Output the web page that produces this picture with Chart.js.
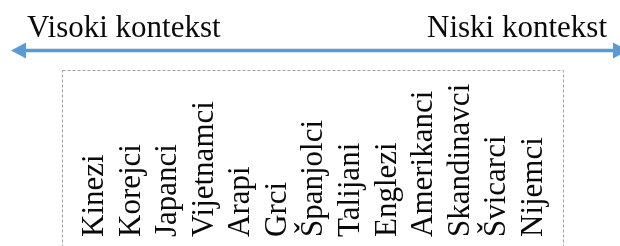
<!DOCTYPE html>
<html>
<head>
<meta charset="utf-8">
<script src="https://cdn.jsdelivr.net/npm/chart.js@4"></script>
<style>
  html, body { margin: 0; padding: 0; background: #fff; }
  #wrap { width: 620px; height: 246px; }
</style>
</head>
<body>
<div id="wrap"><canvas id="myChart"></canvas></div>
<script>
// kulture poredane od visokog prema niskom kontekstu
const kulture = ['Kinezi', 'Korejci', 'Japanci', 'Vijetnamci', 'Arapi', 'Grci', 'Španjolci',
                 'Talijani', 'Englezi', 'Amerikanci', 'Skandinavci', 'Švicarci', 'Nijemci'];
const vrijednosti = kulture.map(() => null);
const krajevi = ['Visoki kontekst', 'Niski kontekst'];

const font = '"Liberation Serif", "Times New Roman", serif';

// strelica, natpisi krajeva i isprekidani okvir
const skica = {
    id: 'skica',
    beforeDraw(chart) {
        const ctx = chart.ctx;
        ctx.save();

        // okvir
        ctx.strokeStyle = '#a0a0a0';
        ctx.lineWidth = 1;
        ctx.setLineDash([3, 2]);
        ctx.strokeRect(62.5, 70.5, 501, 200);
        ctx.setLineDash([]);

        // strelica
        const y = 50.5;
        ctx.strokeStyle = '#5b9bd5';
        ctx.fillStyle = '#5b9bd5';
        ctx.lineWidth = 3.5;
        ctx.beginPath();
        ctx.moveTo(22, y);
        ctx.lineTo(618, y);
        ctx.stroke();
        ctx.beginPath();
        ctx.moveTo(11, y);
        ctx.lineTo(26, y - 8);
        ctx.lineTo(26, y + 8);
        ctx.closePath();
        ctx.fill();
        ctx.beginPath();
        ctx.moveTo(628, y);
        ctx.lineTo(613, y - 8);
        ctx.lineTo(613, y + 8);
        ctx.closePath();
        ctx.fill();

        // natpisi
        ctx.fillStyle = '#0a0a0a';
        ctx.font = '31px ' + font;
        ctx.textBaseline = 'alphabetic';
        ctx.textAlign = 'left';
        ctx.fillText(krajevi[0], 27, 37);
        ctx.textAlign = 'right';
        ctx.fillText(krajevi[1], 607, 37);
        ctx.restore();
    }
};

const ctx = document.getElementById('myChart').getContext('2d');
new Chart(ctx, {
    type: 'bar',
    data: {
        labels: kulture,
        datasets: [{ data: vrijednosti, backgroundColor: '#5b9bd5' }]
    },
    options: {
        responsive: true,
        maintainAspectRatio: false,
        animation: false,
        layout: { padding: { top: 70, left: 114, right: 31, bottom: 0 } },
        plugins: { legend: { display: false }, tooltip: { enabled: false } },
        scales: {
            x: {
                position: 'top',
                offset: true,
                grid: { display: false, drawTicks: false },
                border: { display: false },
                afterFit: s => { s.height = 167; },
                ticks: {
                    autoSkip: false,
                    minRotation: 90,
                    maxRotation: 90,
                    padding: 0,
                    color: '#0a0a0a',
                    font: { family: font, size: 31 }
                }
            },
            y: { display: false, min: 0, max: 1 }
        }
    },
    plugins: [skica]
});
</script>
</body>
</html>
